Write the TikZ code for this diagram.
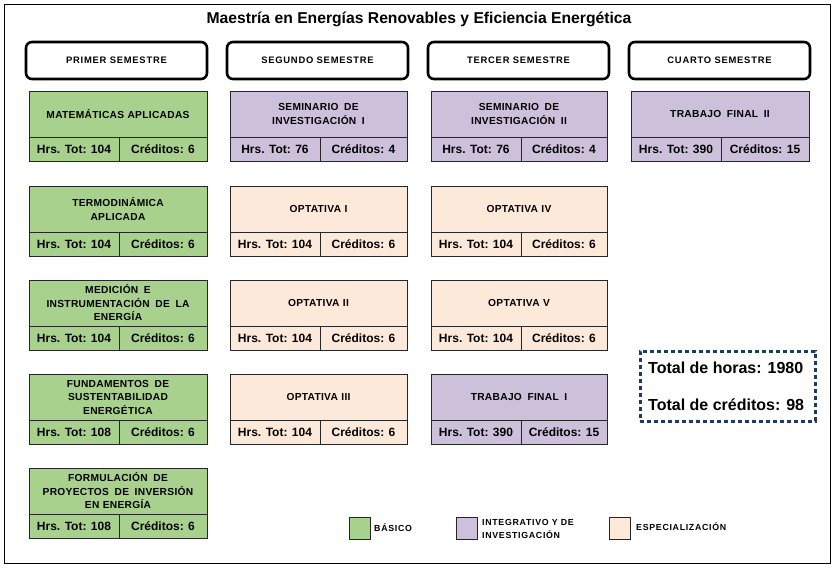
\documentclass[tikz,border=0pt]{standalone}
\usepackage{fontspec}
\setmainfont{Liberation Sans}
\newfontfamily\fsem[LetterSpace=8]{Liberation Sans}
\newfontfamily\ftit[LetterSpace=3]{Liberation Sans}
\newfontfamily\fhrs{Liberation Sans}
\newfontfamily\fleg[LetterSpace=8]{Liberation Sans}
\definecolor{basico}{HTML}{A9D18E}
\definecolor{integ}{HTML}{CCC0DA}
\definecolor{espec}{HTML}{FDE9D9}
\definecolor{navy}{HTML}{1F3864}
\newcommand\ws{\hspace{0.55em}}
\tikzset{
  sembox/.style={draw, line width=2.6pt, rounded corners=6pt, minimum width=181pt,
    minimum height=37pt, anchor=north west, inner sep=0pt, outer sep=0pt,
    font=\fsem\bfseries\fontsize{9.4}{10}\selectfont},
  ctop/.style={draw=black!85, line width=0.9pt, anchor=north west, minimum width=178pt,
    minimum height=46pt, inner sep=0pt, outer sep=0pt, align=center, text width=170pt,
    font=\ftit\bfseries\fontsize{10.2}{13.5}\selectfont},
  ccell/.style={draw=black!85, line width=0.9pt, minimum height=24pt, inner sep=0pt,
    outer sep=0pt, font=\fhrs\bfseries\fontsize{12}{13}\selectfont},
  legsq/.style={draw=black!85, line width=0.9pt, minimum width=21pt, minimum height=22pt,
    anchor=north west, inner sep=0pt, outer sep=0pt},
  legtxt/.style={anchor=west, align=left, inner sep=0pt,
    font=\fleg\bfseries\fontsize{8.8}{13.5}\selectfont},
}
\newcommand\course[8]{%
  \node[ctop, fill=#4, minimum width=#8pt] (#1) at (#2,#3) {#5};
  \node[ccell, fill=#4, minimum width=90pt, anchor=north west] (#1h) at (#1.south west) {Hrs. Tot: #6};
  \node[ccell, fill=#4, minimum width=#8pt-90pt, anchor=north east] (#1c) at (#1.south east) {Créditos: #7};
}
\begin{document}
\begin{tikzpicture}[x=1pt,y=-1pt]
\useasboundingbox (0,0) rectangle (838,569);
\fill[white] (0,0) rectangle (838,569);
\draw[line width=1.2pt] (4.5,4.5) rectangle (830.5,563.5);
\node[font=\bfseries\fontsize{15.7}{18}\selectfont] (title) at (419,19) {Maestría en Energías Renovables y Eficiencia Energética};
% semesters
\node[sembox] (s1) at (26,42) {PRIMER SEMESTRE};
\node[sembox] (s2) at (227,42) {SEGUNDO SEMESTRE};
\node[sembox] (s3) at (428,42) {TERCER SEMESTRE};
\node[sembox] (s4) at (629,42) {CUARTO SEMESTRE};
% column 1
\course{c11}{29}{91}{basico}{MATEMÁTICAS APLICADAS}{104}{6}{178}
\course{c12}{29}{186}{basico}{TERMODINÁMICA\\APLICADA}{104}{6}{178}
\course{c13}{29}{280}{basico}{MEDICIÓN\ws E\\INSTRUMENTACIÓN\ws DE\ws LA\\ENERGÍA}{104}{6}{178}
\course{c14}{29}{374}{basico}{FUNDAMENTOS\ws DE\\SUSTENTABILIDAD\\ENERGÉTICA}{108}{6}{178}
\course{c15}{29}{468}{basico}{FORMULACIÓN\ws DE\\PROYECTOS\ws DE\ws INVERSIÓN\\EN ENERGÍA}{108}{6}{178}
% column 2
\course{c21}{230}{91}{integ}{SEMINARIO\ws DE\\INVESTIGACIÓN\ws I}{76}{4}{177}
\course{c22}{230}{186}{espec}{OPTATIVA I}{104}{6}{177}
\course{c23}{230}{280}{espec}{OPTATIVA II}{104}{6}{177}
\course{c24}{230}{374}{espec}{OPTATIVA III}{104}{6}{177}
% column 3
\course{c31}{431}{91}{integ}{SEMINARIO\ws DE\\INVESTIGACIÓN\ws II}{76}{4}{176}
\course{c32}{431}{186}{espec}{OPTATIVA IV}{104}{6}{176}
\course{c33}{431}{280}{espec}{OPTATIVA V}{104}{6}{176}
\course{c34}{431}{374}{integ}{TRABAJO\ws FINAL\ws I}{390}{15}{176}
% column 4
\course{c41}{631}{91}{integ}{TRABAJO\ws FINAL\ws II}{390}{15}{178}
% totals
\node[draw=navy, line width=2.6pt, dash pattern=on 4pt off 3pt, minimum width=175pt,
  minimum height=70pt, anchor=north west, inner sep=0pt] (tot) at (639,350) {};
\node[anchor=west, inner sep=0pt, font=\bfseries\fontsize{16}{19}\selectfont] (th) at (648,368) {Total de horas: 1980};
\node[anchor=west, inner sep=0pt, font=\bfseries\fontsize{16}{19}\selectfont] (tc) at (648,405) {Total de créditos: 98};
% legend
\node[legsq, fill=basico] (lb) at (349,517) {};
\node[legtxt] (lbt) at (374,528) {BÁSICO};
\node[legsq, fill=integ] (li) at (456,517) {};
\node[legtxt] (lit) at (482,529) {INTEGRATIVO Y DE\\INVESTIGACIÓN};
\node[legsq, fill=espec] (le) at (609,517) {};
\node[legtxt] (let) at (636,527) {ESPECIALIZACIÓN};
\end{tikzpicture}
\end{document}
